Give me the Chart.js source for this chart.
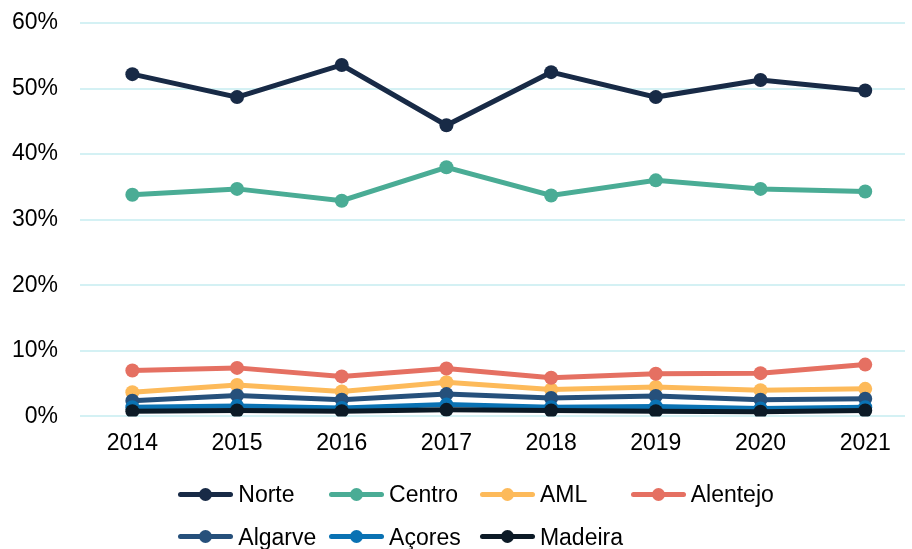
<!DOCTYPE html>
<html>
<head>
<meta charset="utf-8">
<script src="https://cdn.jsdelivr.net/npm/chart.js@4.4.1/dist/chart.umd.min.js"></script>
<style>
  html, body { margin: 0; padding: 0; background: #fff; }
  #wrap { position: relative; width: 912px; height: 549px; }
  #legend { position: absolute; left: 0; top: 0; width: 912px; height: 549px; pointer-events: none; }
  .item { position: absolute; height: 24px; display: flex; align-items: center; }
  .sym { position: relative; width: 55px; height: 14px; }
  .sym .ln { position: absolute; left: 0; top: 4.5px; width: 55px; height: 5px; border-radius: 2.5px; }
  .sym .pt { position: absolute; left: 21px; top: 0.5px; width: 13px; height: 13px; border-radius: 50%; }
  .txt { font-family: "Liberation Sans", Arial, sans-serif; font-size: 23px; line-height: 24px; color: #000;
         margin-left: 5px; white-space: nowrap; }
</style>
</head>
<body>
<div id="wrap">
  <canvas id="lineChart" width="912" height="549"></canvas>
  <div id="legend"></div>
</div>
<script>
var years = [2014, 2015, 2016, 2017, 2018, 2019, 2020, 2021];
var yTicks = [0, 10, 20, 30, 40, 50, 60];

var regions = ["Norte", "Centro", "AML", "Alentejo", "Algarve", "Açores", "Madeira"];
var colors = ["#182a46", "#4aac95", "#fdba5a", "#e57062", "#26507b", "#0a72b3", "#0c1a26"];

var norte    = [52.2, 48.7, 53.6, 44.4, 52.5, 48.7, 51.3, 49.7];
var centro   = [33.8, 34.7, 32.9, 38.0, 33.7, 36.0, 34.7, 34.3];
var aml      = [3.7, 4.8, 3.8, 5.2, 4.1, 4.5, 4.0, 4.2];
var alentejo = [7.0, 7.4, 6.1, 7.3, 5.9, 6.5, 6.6, 7.9];
var algarve  = [2.4, 3.2, 2.55, 3.4, 2.8, 3.1, 2.55, 2.7];
var acores   = [1.4, 1.6, 1.3, 1.8, 1.4, 1.5, 1.2, 1.4];
var madeira  = [0.8, 0.9, 0.8, 1.0, 0.9, 0.8, 0.7, 0.9];

var series = [norte, centro, aml, alentejo, algarve, acores, madeira];

var datasets = [];
for (var i = 0; i < series.length; i++) {
    datasets.push({
        label: regions[i],
        data: series[i].map(function (v, j) { return { x: years[j], y: v }; }),
        borderColor: colors[i],
        backgroundColor: colors[i],
        pointBackgroundColor: colors[i],
        pointBorderColor: colors[i],
        borderWidth: 5,
        pointRadius: 7,
        pointBorderWidth: 0,
        tension: 0,
        order: series.length - i
    });
}

var ctx = document.getElementById("lineChart").getContext('2d');
var myLineChart = new Chart(ctx, {
    type: 'line',
    data: { datasets: datasets },
    options: {
        responsive: false,
        animation: false,
        layout: { padding: { top: 23, right: 0, bottom: 79, left: 0 } },
        plugins: { legend: { display: false }, tooltip: { enabled: false } },
        scales: {
            x: {
                type: 'linear',
                min: 2013.5,
                max: 2021.38,
                afterBuildTicks: function (scale) {
                    scale.ticks = years.map(function (y) { return { value: y }; });
                },
                grid: { display: false, drawTicks: false },
                border: { display: false },
                ticks: {
                    padding: 13,
                    color: '#000',
                    font: { family: 'Liberation Sans', size: 23 },
                    callback: function (v) { return String(v); },
                    autoSkip: false,
                    maxRotation: 0
                }
            },
            y: {
                min: 0,
                max: 60,
                afterBuildTicks: function (scale) {
                    scale.ticks = yTicks.map(function (v) { return { value: v }; });
                },
                afterFit: function (scale) {
                    scale.width = 80;
                    scale.paddingTop = 0;
                    scale.paddingBottom = 0;
                },
                grid: { color: '#d4f1f4', lineWidth: 2, drawTicks: false },
                border: { display: false },
                ticks: {
                    padding: 22,
                    color: '#000',
                    font: { family: 'Liberation Sans', size: 23 },
                    callback: function (v) { return v + '%'; }
                }
            }
        }
    }
});

// legend laid out as a 4 column grid like the original
function drawLegend() {
    var box = document.getElementById('legend');
    for (var i = 0; i < regions.length; i++) {
        var col = i % 4, row = Math.floor(i / 4);
        var item = document.createElement('div');
        item.className = 'item';
        item.style.left = (178.3 + col * 150.8) + 'px';
        item.style.top = (482 + row * 42.5) + 'px';
        item.innerHTML = '<div class="sym"><div class="ln" style="background:' + colors[i] + '"></div>' +
                         '<div class="pt" style="background:' + colors[i] + '"></div></div>' +
                         '<span class="txt">' + regions[i] + '</span>';
        box.appendChild(item);
    }
}
drawLegend();
</script>
</body>
</html>
